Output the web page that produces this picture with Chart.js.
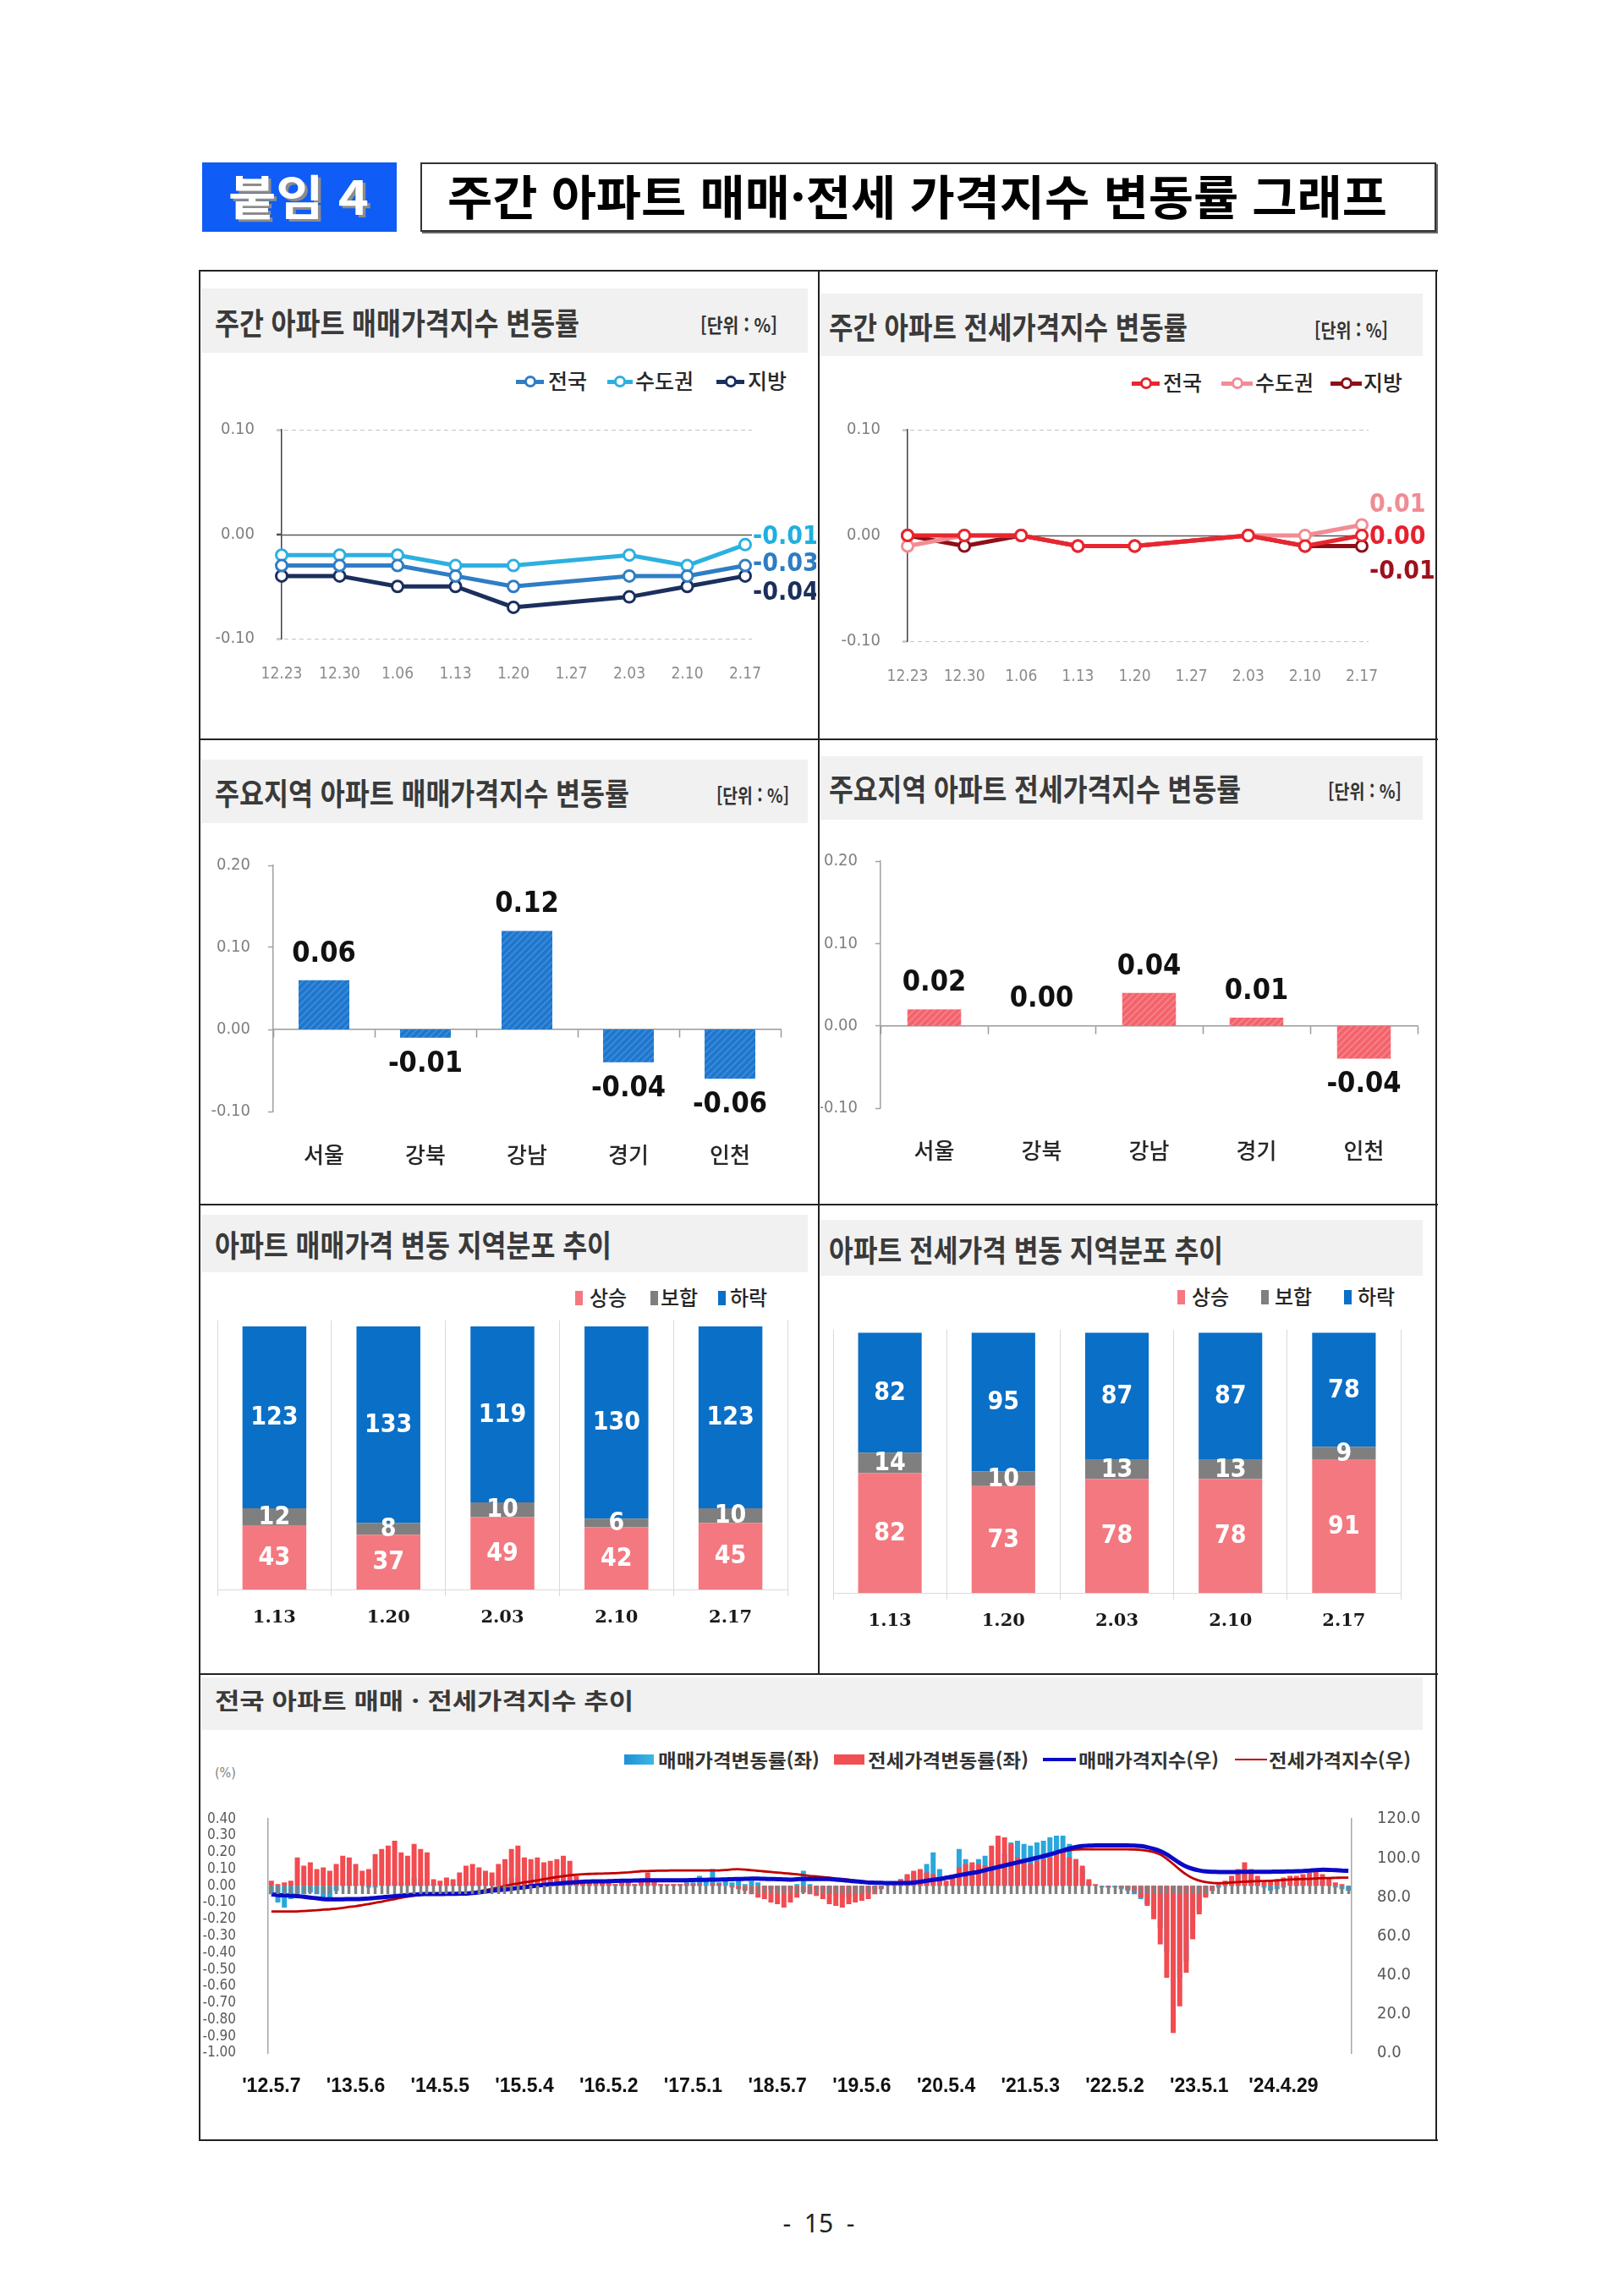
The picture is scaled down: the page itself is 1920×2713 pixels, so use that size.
<!DOCTYPE html>
<html lang="ko">
<head>
<meta charset="utf-8">
<title>주간 아파트 매매·전세 가격지수 변동률 그래프</title>
<script src="https://cdn.jsdelivr.net/npm/chart.js@4.4.1/dist/chart.umd.min.js"></script>
<style>
  html, body { margin: 0; padding: 0; }
  body { width: 1920px; height: 2713px; position: relative; overflow: hidden; background: #fff;
         font-family: "Noto Sans CJK KR", "Noto Sans", sans-serif; color: #222; }
  .abs { position: absolute; }
  .txt { position: absolute; white-space: pre; line-height: 1; transform-origin: 0 50%; }
</style>
</head>
<body>
<script>
// ---------- data ----------
const weekLabels = ['12.23', '12.30', '1.06', '1.13', '1.20', '1.27', '2.03', '2.10', '2.17'];
const saleNation   = [-0.03, -0.03, -0.03, -0.04, -0.05, null, -0.04, -0.04, -0.03];
const saleCapital  = [-0.02, -0.02, -0.02, -0.03, -0.03, null, -0.02, -0.03, -0.01];
const saleLocal    = [-0.04, -0.04, -0.05, -0.05, -0.07, null, -0.06, -0.05, -0.04];
const jeonseNation  = [0.00, 0.00, 0.00, -0.01, -0.01, null, 0.00, -0.01, 0.00];
const jeonseCapital = [-0.01, 0.00, 0.00, -0.01, -0.01, null, 0.00, 0.00, 0.01];
const jeonseLocal   = [0.00, -0.01, 0.00, -0.01, -0.01, null, 0.00, -0.01, -0.01];

const regionLabels = ['서울', '강북', '강남', '경기', '인천'];
const saleRegion   = [0.06, -0.01, 0.12, -0.04, -0.06];
const jeonseRegion = [0.02, 0.00, 0.04, 0.01, -0.04];

const distLabels = ['1.13', '1.20', '2.03', '2.10', '2.17'];
const saleRise = [43, 37, 49, 42, 45];
const saleFlat = [12, 8, 10, 6, 10];
const saleFall = [123, 133, 119, 130, 123];
const jeonseRise = [82, 73, 78, 78, 91];
const jeonseFlat = [14, 10, 13, 13, 9];
const jeonseFall = [82, 95, 87, 87, 78];

// long-term trend, one value every 4 weeks from '12.5.7 (13 values per year)
const yearTicks = ["'12.5.7", "'13.5.6", "'14.5.5", "'15.5.4", "'16.5.2", "'17.5.1", "'18.5.7",
                   "'19.5.6", "'20.5.4", "'21.5.3", "'22.5.2", "'23.5.1", "'24.4.29"];
const saleRate = [
  -0.05, -0.10, -0.13, -0.08, -0.06, -0.05, -0.04, -0.05, -0.07, -0.08, -0.03, 0.01, 0.02,
  0.01, 0.00, -0.01, -0.01, 0.00, 0.02, 0.03, 0.02, 0.03, 0.05, 0.04, 0.03, 0.01,
  0.00, 0.01, 0.01, 0.01, 0.02, 0.02, 0.02, 0.02, 0.02, 0.03, 0.04, 0.05, 0.06,
  0.06, 0.07, 0.07, 0.06, 0.06, 0.06, 0.05, 0.04, 0.02, 0.01, 0.01, 0.00, 0.01,
  0.01, 0.01, 0.01, 0.01, 0.01, 0.02, 0.04, 0.02, 0.01, 0.00, 0.01, 0.01, 0.02,
  0.02, 0.06, 0.03, 0.10, 0.02, 0.03, 0.02, 0.04, 0.01, 0.03, 0.02, -0.01, -0.02,
  -0.02, -0.03, -0.02, 0.01, 0.09, 0.01, -0.02, -0.03, -0.05, -0.06, -0.07, -0.07, -0.06,
  -0.05, -0.04, -0.02, -0.01, 0.01, 0.02, 0.04, 0.06, 0.08, 0.09, 0.13, 0.20, 0.10,
  0.01, 0.04, 0.22, 0.16, 0.12, 0.16, 0.18, 0.14, 0.17, 0.19, 0.26, 0.27, 0.25,
  0.24, 0.26, 0.27, 0.29, 0.30, 0.30, 0.25, 0.16, 0.10, 0.02, 0.00, -0.01, -0.01,
  -0.01, -0.02, -0.03, -0.05, -0.08, -0.11, -0.16, -0.25, -0.40, -0.60, -0.55, -0.45, -0.28,
  -0.15, -0.06, -0.03, -0.01, 0.01, 0.04, 0.08, 0.09, 0.06, 0.02, -0.01, -0.03, -0.02,
  -0.01, 0.00, 0.01, 0.02, 0.03, 0.04, 0.03, 0.01, -0.01, -0.02, -0.03
];
const jeonseRate = [
  0.03, 0.01, 0.02, 0.03, 0.17, 0.12, 0.14, 0.10, 0.11, 0.09, 0.13, 0.18, 0.17,
  0.13, 0.09, 0.10, 0.19, 0.22, 0.24, 0.27, 0.20, 0.18, 0.25, 0.22, 0.20, 0.04,
  0.03, 0.05, 0.04, 0.08, 0.12, 0.13, 0.11, 0.09, 0.08, 0.13, 0.16, 0.22, 0.24,
  0.17, 0.16, 0.17, 0.14, 0.15, 0.16, 0.18, 0.15, 0.06, 0.03, 0.03, 0.02, 0.02,
  0.02, 0.01, 0.02, 0.02, 0.01, 0.03, 0.08, 0.03, 0.01, 0.01, 0.01, 0.01, 0.01,
  0.01, 0.01, 0.00, 0.01, 0.01, 0.00, -0.01, -0.02, -0.03, -0.05, -0.07, -0.08, -0.10,
  -0.11, -0.13, -0.10, -0.07, -0.04, -0.05, -0.06, -0.08, -0.11, -0.12, -0.13, -0.11, -0.10,
  -0.09, -0.08, -0.05, -0.02, 0.00, 0.02, 0.04, 0.07, 0.09, 0.10, 0.08, 0.07, 0.03,
  0.03, 0.05, 0.11, 0.13, 0.14, 0.13, 0.12, 0.24, 0.30, 0.29, 0.25, 0.17, 0.15,
  0.13, 0.15, 0.16, 0.17, 0.19, 0.20, 0.17, 0.16, 0.12, 0.04, 0.01, 0.00, -0.01,
  0.00, -0.01, -0.02, -0.03, -0.07, -0.12, -0.20, -0.35, -0.55, -0.88, -0.72, -0.52, -0.32,
  -0.17, -0.07, -0.03, 0.01, 0.03, 0.06, 0.10, 0.14, 0.10, 0.06, 0.03, 0.03, 0.04,
  0.05, 0.06, 0.06, 0.07, 0.08, 0.09, 0.07, 0.05, 0.02, 0.01, 0.00
];
const saleIndex = [
  81.3, 81.0, 80.8, 80.6, 80.4, 80.1, 79.7, 79.3, 78.9, 78.8, 78.8, 78.8, 78.9,
  78.9, 79.0, 79.2, 79.5, 79.8, 80.1, 80.4, 80.7, 81.0, 81.2, 81.4, 81.5, 81.5,
  81.5, 81.6, 81.6, 81.7, 81.7, 82.0, 82.4, 82.8, 83.2, 83.5, 83.8, 84.2, 84.6,
  85.0, 85.4, 85.8, 86.2, 86.5, 86.8, 87.1, 87.4, 87.6, 87.8, 87.9, 88.0, 88.0,
  88.1, 88.2, 88.3, 88.3, 88.4, 88.5, 88.5, 88.5, 88.5, 88.5, 88.5, 88.5, 88.6,
  88.7, 88.8, 88.8, 88.9, 88.9, 89.0, 89.1, 89.2, 89.3, 89.4, 89.4, 89.3, 89.2,
  89.1, 89.0, 88.9, 89.1, 89.2, 89.2, 89.2, 89.2, 89.2, 88.9, 88.6, 88.3, 88.0,
  87.7, 87.4, 87.3, 87.2, 87.1, 87.1, 87.1, 87.1, 87.4, 87.8, 88.3, 88.8, 89.2,
  89.8, 90.4, 91.1, 91.7, 92.3, 92.9, 93.7, 94.5, 95.3, 96.1, 96.9, 97.7, 98.5,
  99.3, 100.1, 100.9, 101.8, 102.8, 103.8, 104.8, 105.6, 106.1, 106.3, 106.4, 106.4, 106.4,
  106.4, 106.4, 106.4, 106.3, 106.1, 105.5, 104.6, 103.5, 101.8, 99.6, 97.4, 95.6, 94.4,
  93.6, 93.1, 92.9, 92.8, 92.8, 92.8, 92.8, 92.9, 92.9, 92.9, 92.9, 92.9, 93.0,
  93.0, 93.1, 93.2, 93.3, 93.5, 93.8, 94.0, 93.9, 93.7, 93.5, 93.4
];
const jeonseIndex = [
  72.6, 72.6, 72.6, 72.6, 72.6, 72.8, 73.0, 73.2, 73.5, 73.7, 74.0, 74.4, 74.9,
  75.3, 75.8, 76.4, 77.0, 77.6, 78.3, 78.9, 79.6, 80.2, 80.7, 81.1, 81.4, 81.5,
  81.5, 81.5, 81.6, 81.7, 81.8, 82.3, 82.9, 83.5, 84.2, 84.9, 85.6, 86.3, 86.9,
  87.5, 88.0, 88.5, 89.1, 89.7, 90.2, 90.7, 91.1, 91.4, 91.6, 91.8, 91.9, 92.0,
  92.1, 92.2, 92.4, 92.6, 92.9, 93.2, 93.3, 93.4, 93.5, 93.5, 93.6, 93.6, 93.6,
  93.6, 93.6, 93.6, 93.6, 93.6, 93.8, 94.1, 94.2, 94.0, 93.7, 93.4, 93.1, 92.8,
  92.5, 92.2, 91.9, 91.6, 91.2, 90.8, 90.5, 90.2, 89.9, 89.5, 89.2, 88.8, 88.4,
  88.1, 87.8, 87.6, 87.5, 87.4, 87.4, 87.4, 87.4, 87.6, 88.0, 88.5, 89.0, 89.6,
  90.3, 90.9, 91.5, 92.1, 92.7, 93.3, 94.1, 94.9, 95.8, 96.6, 97.4, 98.1, 98.8,
  99.6, 100.3, 101.0, 101.8, 102.6, 103.3, 103.9, 104.3, 104.4, 104.4, 104.4, 104.4, 104.4,
  104.4, 104.4, 104.4, 104.3, 104.1, 103.7, 103.0, 101.8, 99.6, 96.9, 94.0, 91.5, 89.6,
  88.4, 87.6, 87.2, 87.1, 87.2, 87.4, 87.6, 87.8, 88.0, 88.1, 88.2, 88.3, 88.5,
  88.7, 88.9, 89.1, 89.2, 89.3, 89.5, 89.6, 89.7, 89.8, 89.9, 89.9
];

// ---------- helpers ----------
const KR = "'Noto Sans CJK KR', 'Noto Sans', sans-serif";
const NARROW = "'Liberation Sans Narrow', 'DejaVu Sans Condensed', 'Liberation Sans', sans-serif";
const SERIF = "'DejaVu Serif', 'Liberation Serif', serif";
const px = v => v + 'px';
const fmt2 = v => { const r = Math.round(v * 100) / 100; return (r === 0 ? 0 : r).toFixed(2); };

function el(tag, cls, style, str) {
  const e = document.createElement(tag);
  if (cls) e.className = cls;
  Object.assign(e.style, style);
  if (str != null) e.textContent = str;
  document.body.appendChild(e);
  return e;
}
function rect(x, y, w, h, bg, extra) {
  return el('div', 'abs', Object.assign({left: px(x), top: px(y), width: px(w), height: px(h), background: bg}, extra || {}));
}
// text with its glyph centre at cy; optionally squeezed to a target width
function text(str, x, cy, size, o = {}) {
  const e = el('div', 'txt', {
    left: px(x), top: px(cy - size * 0.56), fontSize: px(size),
    color: o.color || '#222', fontWeight: o.weight || 400, fontFamily: o.family || KR,
    letterSpacing: o.spacing ? px(o.spacing) : 'normal'
  }, str);
  const w = e.getBoundingClientRect().width;
  if (o.width) e.style.transform = `scaleX(${o.width / w})`;
  if (o.center) e.style.left = px(x - w / 2);
  return e;
}
function makeCanvas(box) {
  const cv = document.createElement('canvas');
  cv.width = box.r - box.l;
  cv.height = box.b - box.t;
  Object.assign(cv.style, {position: 'absolute', left: px(box.l), top: px(box.t),
    width: px(box.r - box.l), height: px(box.b - box.t)});
  document.body.appendChild(cv);
  return cv;
}
function hatch(base, stripe) {
  const c = document.createElement('canvas');
  c.width = c.height = 8;
  const g = c.getContext('2d');
  g.fillStyle = base;
  g.fillRect(0, 0, 8, 8);
  g.strokeStyle = stripe;
  g.lineWidth = 1.6;
  g.beginPath();
  g.moveTo(0, 8); g.lineTo(8, 0);
  g.moveTo(-2, 2); g.lineTo(2, -2);
  g.moveTo(6, 10); g.lineTo(10, 6);
  g.stroke();
  return g.createPattern(c, 'repeat');
}
const cfg = (chart, id) => (chart.config.options.plugins || {})[id];

// ---------- plugins ----------
const refLines = {
  id: 'refLines',
  beforeDatasetsDraw(chart) {
    const o = cfg(chart, 'refLines');
    if (!o) return;
    const {ctx, chartArea: a} = chart;
    const y = chart.scales.y;
    o.lines.forEach(l => {
      const py = Math.round(y.getPixelForValue(l.value)) + 0.5;
      ctx.save();
      ctx.strokeStyle = l.color;
      ctx.lineWidth = l.width || 1;
      ctx.setLineDash(l.dash || []);
      ctx.beginPath();
      ctx.moveTo(a.left - (o.left || 0), py);
      ctx.lineTo(a.right + (o.right || 0), py);
      ctx.stroke();
      ctx.restore();
    });
  }
};
const endLabels = {
  id: 'endLabels',
  afterDatasetsDraw(chart) {
    const o = cfg(chart, 'endLabels');
    if (!o) return;
    const ctx = chart.ctx;
    o.items.forEach((it, di) => {
      const data = chart.data.datasets[di].data;
      const pt = chart.getDatasetMeta(di).data[data.length - 1];
      ctx.save();
      ctx.font = o.font;
      ctx.fillStyle = it.color;
      ctx.textAlign = 'left';
      ctx.textBaseline = 'middle';
      ctx.fillText(fmt2(data[data.length - 1]), pt.x + o.dx, pt.y + it.dy);
      ctx.restore();
    });
  }
};
const barLabels = {
  id: 'barLabels',
  afterDatasetsDraw(chart) {
    const o = cfg(chart, 'barLabels');
    if (!o) return;
    const ctx = chart.ctx;
    ctx.save();
    ctx.font = o.font;
    ctx.fillStyle = o.color;
    ctx.textAlign = 'center';
    ctx.textBaseline = 'middle';
    const data = chart.data.datasets[0].data;
    chart.getDatasetMeta(0).data.forEach((bar, i) => {
      const v = data[i];
      ctx.fillText(fmt2(v), bar.x, v >= 0 ? bar.y - o.offset : bar.y + o.offset);
    });
    ctx.restore();
  }
};
const stackLabels = {
  id: 'stackLabels',
  afterDatasetsDraw(chart) {
    const o = cfg(chart, 'stackLabels');
    if (!o) return;
    const ctx = chart.ctx;
    ctx.save();
    ctx.font = o.font;
    ctx.fillStyle = o.color;
    ctx.textAlign = 'center';
    ctx.textBaseline = 'middle';
    chart.data.datasets.forEach((ds, di) => {
      chart.getDatasetMeta(di).data.forEach((bar, i) => {
        ctx.fillText(String(ds.data[i]), bar.x, (bar.y + bar.base) / 2 + 1);
      });
    });
    ctx.restore();
  }
};
Chart.register(refLines, endLabels, barLabels, stackLabels);
Chart.defaults.font.family = KR;

const baseOpts = () => ({responsive: false, devicePixelRatio: 1, animation: false, events: []});

// ---------- page frame ----------
rect(239, 192, 230, 82, '#0F5CF6');
text('붙임 4', 270, 233, 56, {color: '#fff', weight: 700, width: 166}).style.textShadow = '3px 3px 0 #8c8c8c';
rect(497, 192, 1197, 78, '#fff', {border: '2px solid #333', boxShadow: '2px 2px 0 #666'});
text('주간 아파트 매매·전세 가격지수 변동률 그래프', 529, 233, 56, {color: '#000', weight: 700, width: 1111});

[[235, 319, 1465, 2], [235, 2529, 1465, 2], [235, 319, 2, 2212], [1697, 319, 2, 2212],
 [967, 319, 2, 1661], [235, 873, 1465, 2], [235, 1423, 1465, 2], [235, 1978, 1465, 2]]
  .forEach(r => rect(r[0], r[1], r[2], r[3], '#222'));

const panels = [
  {band: [238, 341, 955, 417], title: '주간 아파트 매매가격지수 변동률', tx: 254, ty: 382, tw: 431, size: 36, unit: [828, 385, 91]},
  {band: [969, 347, 1682, 421], title: '주간 아파트 전세가격지수 변동률', tx: 980, ty: 387, tw: 424, size: 36, unit: [1554, 391, 87]},
  {band: [238, 898, 955, 973], title: '주요지역 아파트 매매가격지수 변동률', tx: 254, ty: 938, tw: 490, size: 36, unit: [847, 941, 86]},
  {band: [969, 894, 1682, 969], title: '주요지역 아파트 전세가격지수 변동률', tx: 980, ty: 933, tw: 487, size: 36, unit: [1570, 936, 87]},
  {band: [238, 1436, 955, 1504], title: '아파트 매매가격 변동 지역분포 추이', tx: 254, ty: 1472, tw: 469, size: 36},
  {band: [969, 1442, 1682, 1508], title: '아파트 전세가격 변동 지역분포 추이', tx: 980, ty: 1478, tw: 466, size: 36},
  {band: [238, 1983, 1682, 2045], title: '전국 아파트 매매 · 전세가격지수 추이', tx: 254, ty: 2011, tw: 495, size: 27}
];
panels.forEach(p => {
  const [l, t, r, b] = p.band;
  rect(l, t, r - l, b - t, '#f1f1f1');
  text(p.title, p.tx, p.ty, p.size, {color: '#3a3a3a', weight: 700, width: p.tw});
  if (p.unit) text('[단위 : %]', p.unit[0], p.unit[1], 23, {color: '#333', weight: 700, width: p.unit[2]});
});

// legends
function lineIcon(x1, x2, cy, color) {
  rect(x1, cy - 2.5, x2 - x1, 5, color);
  rect((x1 + x2) / 2 - 7, cy - 7, 14, 14, '#fff',
       {border: `3px solid ${color}`, borderRadius: '50%', boxSizing: 'border-box'});
}
const saleColors = ['#2F7DC4', '#2DB0E0', '#1B2F5E'];
const jeonseColors = ['#E8262F', '#F28C93', '#8E0F18'];
const legendNames = ['전국', '수도권', '지방'];
[[610, 643, 648], [718, 748, 751], [847, 880, 884]].forEach((it, i) => {
  lineIcon(it[0], it[1], 451, saleColors[i]);
  text(legendNames[i], it[2], 451, 25, {color: '#262626', weight: 500});
});
[[1338, 1371, 1375], [1444, 1481, 1484], [1573, 1610, 1612]].forEach((it, i) => {
  lineIcon(it[0], it[1], 453, jeonseColors[i]);
  text(legendNames[i], it[2], 453, 25, {color: '#262626', weight: 500});
});
const distColors = ['#F47880', '#7F7F7F', '#0A6FC6'];
const distNames = ['상승', '보합', '하락'];
[[680, 697], [769, 781], [849, 863]].forEach((it, i) => {
  rect(it[0], 1526, 9, 17, distColors[i]);
  text(distNames[i], it[1], 1534, 24, {color: '#262626', weight: 500});
});
[[1392, 1409], [1491, 1507], [1589, 1605]].forEach((it, i) => {
  rect(it[0], 1525, 9, 17, distColors[i]);
  text(distNames[i], it[1], 1533, 24, {color: '#262626', weight: 500});
});
rect(738, 2074, 35, 12, 'linear-gradient(90deg,#1E90D8,#3CB8E4)');
text('매매가격변동률(좌)', 778, 2080, 22, {color: '#333', weight: 700, width: 191});
rect(986, 2074, 36, 12, '#F24F52');
text('전세가격변동률(좌)', 1026, 2080, 22, {color: '#333', weight: 700, width: 190});
rect(1233, 2077.5, 39, 4.5, '#0A0AC8');
text('매매가격지수(우)', 1275, 2080, 22, {color: '#333', weight: 700, width: 166});
rect(1460, 2078.5, 38, 2.5, '#C00000');
text('전세가격지수(우)', 1500, 2080, 22, {color: '#333', weight: 700, width: 168});
text('(%)', 254, 2097, 16, {color: '#7f7f7f', family: NARROW});
text('-  15  -', 968, 2630, 30, {color: '#222', family: "'Noto Sans', 'DejaVu Sans', sans-serif", center: true});

// ---------- charts ----------
function weeklyLineChart(box, area, sets, dx) {
  return new Chart(makeCanvas(box), {
    type: 'line',
    data: {
      labels: weekLabels,
      datasets: sets.map(s => ({
        label: s.name, data: s.data, spanGaps: true, tension: 0,
        borderColor: s.color, borderWidth: 5,
        pointRadius: 6.5, pointBorderWidth: 3, pointBorderColor: s.color, pointBackgroundColor: '#fff'
      }))
    },
    options: Object.assign(baseOpts(), {
      layout: {padding: {left: 0, top: area.t - box.t, right: box.r - area.r, bottom: 0}},
      plugins: {
        legend: {display: false}, tooltip: {enabled: false},
        refLines: {left: 6, right: 8, lines: [
          {value: 0.1, color: '#c4c4c4', dash: [5, 4]},
          {value: -0.1, color: '#c4c4c4', dash: [5, 4]},
          {value: 0, color: '#5a5a5a', width: 1.5}
        ]},
        endLabels: {dx: dx, font: 'bold 30px ' + NARROW, items: sets.map(s => ({color: s.labelColor, dy: s.dy}))}
      },
      scales: {
        x: {
          offset: false, grid: {display: false}, border: {display: false},
          ticks: {color: '#8c8c8c', font: {family: NARROW, size: 19}, padding: area.lab - area.b - 11.4,
                  maxRotation: 0, autoSkip: false},
          afterFit: s => { s.height = box.b - area.b; }
        },
        y: {
          min: -0.1, max: 0.1,
          ticks: {stepSize: 0.1, autoSkip: false, callback: fmt2, color: '#808080', font: {family: NARROW, size: 20}, padding: 26},
          grid: {drawOnChartArea: false, tickLength: 6, tickColor: '#404040', tickWidth: 1.5},
          border: {color: '#404040', width: 1.5},
          afterFit: s => { s.width = area.l - box.l; }
        }
      }
    })
  });
}

weeklyLineChart({l: 240, t: 470, r: 965, b: 815}, {l: 333, t: 492, r: 881, b: 755, lab: 789}, [
  {name: '전국', data: saleNation, color: saleColors[0], labelColor: '#2E7CC4', dy: -1},
  {name: '수도권', data: saleCapital, color: saleColors[1], labelColor: '#1FB0E0', dy: -9},
  {name: '지방', data: saleLocal, color: saleColors[2], labelColor: '#1B2F5E', dy: 20}
], 9);
weeklyLineChart({l: 975, t: 470, r: 1700, b: 815}, {l: 1073, t: 487, r: 1610, b: 758, lab: 792}, [
  {name: '전국', data: jeonseNation, color: jeonseColors[0], labelColor: '#E6222E', dy: 2},
  {name: '수도권', data: jeonseCapital, color: jeonseColors[1], labelColor: '#F08C94', dy: -23},
  {name: '지방', data: jeonseLocal, color: jeonseColors[2], labelColor: '#9E111C', dy: 31}
], 9);

function regionBarChart(box, area, values, fill) {
  return new Chart(makeCanvas(box), {
    type: 'bar',
    data: {labels: regionLabels, datasets: [{data: values, backgroundColor: fill, barPercentage: 0.5, categoryPercentage: 1}]},
    options: Object.assign(baseOpts(), {
      layout: {padding: {left: 0, top: area.t - box.t, right: box.r - area.r, bottom: 0}},
      plugins: {
        legend: {display: false}, tooltip: {enabled: false},
        barLabels: {font: 'bold 34px ' + NARROW, color: '#111', offset: 31}
      },
      scales: {
        x: {
          grid: {display: false}, border: {display: false},
          ticks: {color: '#262626', font: {family: KR, size: 26, weight: '500'}, padding: area.lab - area.b - 15.6},
          afterFit: s => { s.height = box.b - area.b; }
        },
        xz: {
          type: 'category', axis: 'x', position: {y: 0}, offset: true,
          grid: {drawOnChartArea: false, offset: true, tickLength: 9, tickColor: '#9a9a9a', tickWidth: 1.5},
          border: {color: '#9a9a9a', width: 1.5}, ticks: {display: false}
        },
        y: {
          min: -0.1, max: 0.2,
          ticks: {stepSize: 0.1, autoSkip: false, callback: fmt2, color: '#808080', font: {family: NARROW, size: 20}, padding: 21},
          grid: {drawOnChartArea: false, tickLength: 6, tickColor: '#a0a0a0', tickWidth: 1.5},
          border: {color: '#a0a0a0', width: 1.5},
          afterFit: s => { s.width = area.l - box.l; }
        }
      }
    })
  });
}
regionBarChart({l: 240, t: 990, r: 962, b: 1390}, {l: 323, t: 1013, r: 923, b: 1314, lab: 1357},
  saleRegion, hatch('#1E77CF', 'rgba(255,255,255,0.16)'));
regionBarChart({l: 970, t: 985, r: 1695, b: 1390}, {l: 1041, t: 1011, r: 1676, b: 1310, lab: 1352},
  jeonseRegion, hatch('#F4636C', 'rgba(255,255,255,0.22)'));

function distChart(box, area, yMax, rise, flat, fall) {
  return new Chart(makeCanvas(box), {
    type: 'bar',
    data: {
      labels: distLabels,
      datasets: [rise, flat, fall].map((d, i) => ({
        label: distNames[i], data: d, backgroundColor: distColors[i], barPercentage: 0.56, categoryPercentage: 1
      }))
    },
    options: Object.assign(baseOpts(), {
      layout: {padding: {left: area.l - box.l, top: area.t - box.t, right: box.r - area.r, bottom: 0}},
      plugins: {
        legend: {display: false}, tooltip: {enabled: false},
        stackLabels: {font: 'bold 30px ' + NARROW, color: '#fff'}
      },
      scales: {
        x: {
          stacked: true,
          grid: {offset: true, color: '#d9d9d9', tickLength: 8, tickColor: '#d9d9d9'},
          border: {color: '#d9d9d9'},
          ticks: {color: '#1a1a1a', font: {family: SERIF, size: 21, weight: 'bold'}, padding: area.lab - area.b - 8 - 12.6},
          afterFit: s => { s.height = box.b - area.b; }
        },
        y: {stacked: true, display: false, min: 0, max: yMax}
      }
    })
  });
}
distChart({l: 240, t: 1550, r: 962, b: 1940}, {l: 257, t: 1561, r: 931, b: 1879, lab: 1913}, 182, saleRise, saleFlat, saleFall);
distChart({l: 975, t: 1550, r: 1695, b: 1945}, {l: 985, t: 1572, r: 1656, b: 1883, lab: 1917}, 180, jeonseRise, jeonseFlat, jeonseFall);

// long-term trend
(function () {
  const box = {l: 225, t: 2110, r: 1690, b: 2490};
  const area = {l: 317, t: 2129, r: 1598, b: 2427, lab: 2459};
  const barStyle = {yAxisID: 'y', grouped: false, barPercentage: 0.78, categoryPercentage: 1};
  new Chart(makeCanvas(box), {
    type: 'bar',
    data: {
      labels: saleRate.map((_, i) => i),
      datasets: [
        {type: 'line', label: '매매가격지수(우)', data: saleIndex, yAxisID: 'y2', borderColor: '#0A0AC8',
         borderWidth: 5, pointRadius: 0, tension: 0.2, order: 0},
        {type: 'line', label: '전세가격지수(우)', data: jeonseIndex, yAxisID: 'y2', borderColor: '#C00000',
         borderWidth: 2.8, pointRadius: 0, tension: 0.2, order: 1},
        Object.assign({label: '전세가격변동률(좌)', data: jeonseRate, backgroundColor: '#F24B50', order: 2}, barStyle),
        Object.assign({label: '매매가격변동률(좌)', data: saleRate, backgroundColor: '#2AA7DC', order: 3}, barStyle)
      ]
    },
    options: Object.assign(baseOpts(), {
      layout: {padding: {left: 0, top: area.t - box.t, right: 0, bottom: 0}},
      plugins: {legend: {display: false}, tooltip: {enabled: false}},
      scales: {
        x: {
          grid: {display: false}, border: {display: false},
          ticks: {autoSkip: false, maxRotation: 0, color: '#111', font: {family: "'Liberation Sans', Arial, sans-serif", size: 23, weight: 'bold'},
                  padding: area.lab - area.b - 13.8,
                  callback: (v, i) => (i % 13 === 0 ? yearTicks[i / 13] : '')},
          afterFit: s => { s.height = box.b - area.b; }
        },
        xc: {
          type: 'category', axis: 'x', position: {y: 0}, offset: true,
          grid: {drawOnChartArea: false, offset: false, tickLength: 10, tickWidth: 3.5, tickColor: '#808080', z: 1},
          border: {display: false}, ticks: {display: false}
        },
        y: {
          position: 'left', min: -1, max: 0.4,
          ticks: {stepSize: 0.1, autoSkip: false, callback: fmt2, color: '#595959', font: {family: NARROW, size: 17}, padding: 30},
          grid: {display: false}, border: {color: '#a6a6a6', width: 1.5},
          afterFit: s => { s.width = area.l - box.l; }
        },
        y2: {
          position: 'right', min: 0, max: 120,
          ticks: {stepSize: 20, autoSkip: false, callback: v => v.toFixed(1), color: '#595959', font: {family: NARROW, size: 20}, padding: 22},
          grid: {display: false}, border: {color: '#a6a6a6', width: 1.5},
          afterFit: s => { s.width = box.r - area.r; }
        }
      }
    })
  });
})();
</script>
</body>
</html>
